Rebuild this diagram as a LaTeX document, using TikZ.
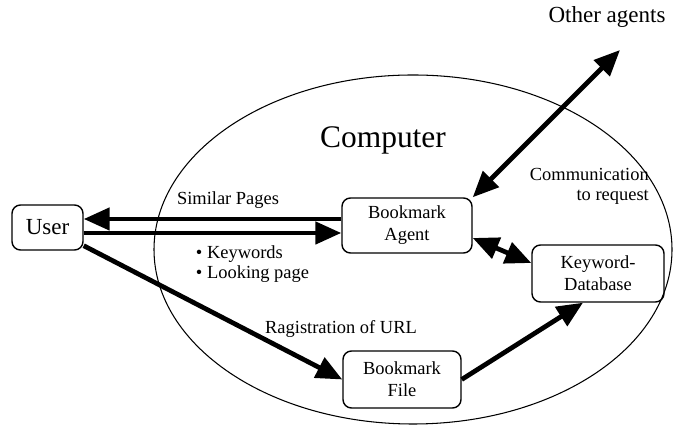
\documentclass[tikz,border=0pt]{standalone}
\usepackage{fontspec}
\setmainfont{Liberation Serif}
\usetikzlibrary{arrows.meta,positioning,calc}

\begin{document}
\begin{tikzpicture}[
        box/.style={rectangle, draw, line width=0.8pt, rounded corners=0.17cm, align=center, font=\fontsize{10.5}{12.5}\selectfont},
        label/.style={font=\fontsize{10.5}{12.5}\selectfont},
        bigarrow/.style={-{Triangle[length=0.52cm, width=0.44cm]}, line width=2.7pt},
        botharrow/.style={{Triangle[length=0.52cm, width=0.44cm]}-{Triangle[length=0.52cm, width=0.44cm]}, line width=2.7pt}
    ]
        \useasboundingbox (0,0) rectangle (13.46,8.5);

        % Computer boundary
        \draw[line width=0.6pt] (8.26,3.51) ellipse (5.18cm and 3.49cm);
        \node[font=\fontsize{17.9}{20}\selectfont] (computer) at (7.66,5.7) {Computer};

        % Boxes
        \node[box, minimum width=1.42cm, minimum height=0.9cm, font=\fontsize{13.1}{15}\selectfont] (user) at (0.95,3.95) {User};
        \node[box, minimum width=2.6cm, minimum height=1.1cm] (agent) at (8.14,3.99) {Bookmark\\Agent};
        \node[box, minimum width=2.64cm, minimum height=1.14cm] (kwdb) at (11.96,3.03) {Keyword-\\Database};
        \node[box, minimum width=2.36cm, minimum height=1.14cm] (bmfile) at (8.04,0.91) {Bookmark\\File};

        % Other agents outside
        \node[font=\fontsize{13.1}{15}\selectfont] (others) at (12.14,8.16) {Other agents};
        \coordinate (othertip) at (12.4,7.5);

        % Arrows between user and agent
        \draw[bigarrow] ([yshift=0.13cm]agent.west) -- ([yshift=0.13cm]agent.west -| user.east);
        \draw[bigarrow] ([yshift=-0.11cm]user.east) -- ([yshift=-0.11cm]user.east -| agent.west);
        \node[label] (similar) at (4.56,4.5) {Similar Pages};
        \node[label, align=left, font=\fontsize{10.5}{11.5}\selectfont] (sent) at (5.05,3.22) {\textbullet\ Keywords\\\textbullet\ Looking page};

        % Registration path
        \draw[bigarrow] ([yshift=0.1cm]user.south east) -- (bmfile.west);
        \node[label] (regist) at (6.82,1.92) {Ragistration of URL};
        \draw[bigarrow] (bmfile.east) -- ([xshift=-0.3cm]kwdb.south);

        % Agent to database and other agents
        \draw[botharrow] ([yshift=-0.25cm]agent.east) -- ([yshift=0.21cm]kwdb.west);
        \draw[botharrow] (agent.north east) -- (othertip);
        \node[label, align=right, anchor=east, font=\fontsize{10.5}{11.5}\selectfont] (comm) at (13.1,4.78) {Communication\\to request};

    \end{tikzpicture}
\end{document}
